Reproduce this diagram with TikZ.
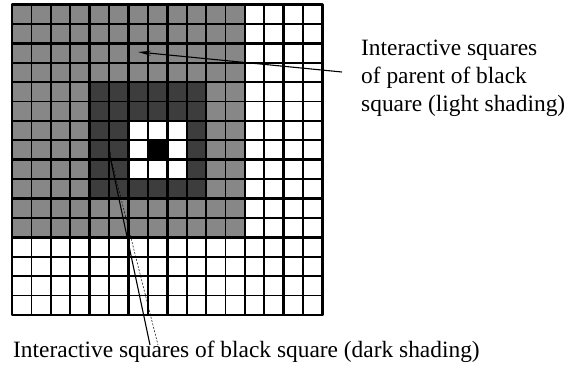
\documentclass[tikz,border=0pt]{standalone}
\usepackage{fontspec}
\setmainfont{Liberation Serif}
\usetikzlibrary{arrows.meta,positioning}

\begin{document}
\begin{tikzpicture}[x=1pt, y=-1pt, >={Stealth[length=13pt,width=5pt]},
    font=\fontsize{23.4}{28}\selectfont,
    cell/.style={line width=1.8pt},
    block/.style={line width=2.6pt},
    lightshade/.style={fill=black!47},
    darkshade/.style={fill=black!76},
    pointer/.style={line width=1.1pt}]
    \useasboundingbox (0,0) rectangle (568,383);

    \begin{scope}[shift={(12,4.5)}, x=19.4pt, y=-19.4pt]
        \fill[lightshade] (0,0) rectangle (12,12);
        \fill[darkshade] (4,4) rectangle (10,10);
        \fill[white] (6,6) rectangle (9,9);
        \fill[black] (7,7) rectangle (8,8);
        \foreach \k in {1,3,...,15} \draw[cell] (\k,0) -- (\k,16) (0,\k) -- (16,\k);
        \foreach \k in {0,2,...,16} \draw[block] (\k,0) -- (\k,16) (0,\k) -- (16,\k);
        \draw[block, line join=round] (0,0) rectangle (16,16);
    \end{scope}

    \node[anchor=north west, align=left, inner sep=0pt] (parenttext) at (361,40)
        {Interactive squares\\of parent of black\\square (light shading)};
    \node[anchor=base west, inner sep=0pt] (blacktext) at (13,357)
        {Interactive squares of black square (dark shading)};

    \coordinate (parenthead) at (138,52);
    \coordinate (parenttail) at (342,72);
    \coordinate (darkhead) at (108,147);
    \coordinate (darktail) at (150,345);
    \coordinate (darktailb) at (158,345);

    \draw[pointer, ->] (parenttail) -- (parenthead);
    \draw[pointer, ->, >={Stealth[length=8pt,width=3pt]}] (darktail) -- (darkhead);
    \draw[line width=0.5pt, dash pattern=on 2pt off 1.5pt] (darkhead) -- (darktailb);
\end{tikzpicture}
\end{document}
